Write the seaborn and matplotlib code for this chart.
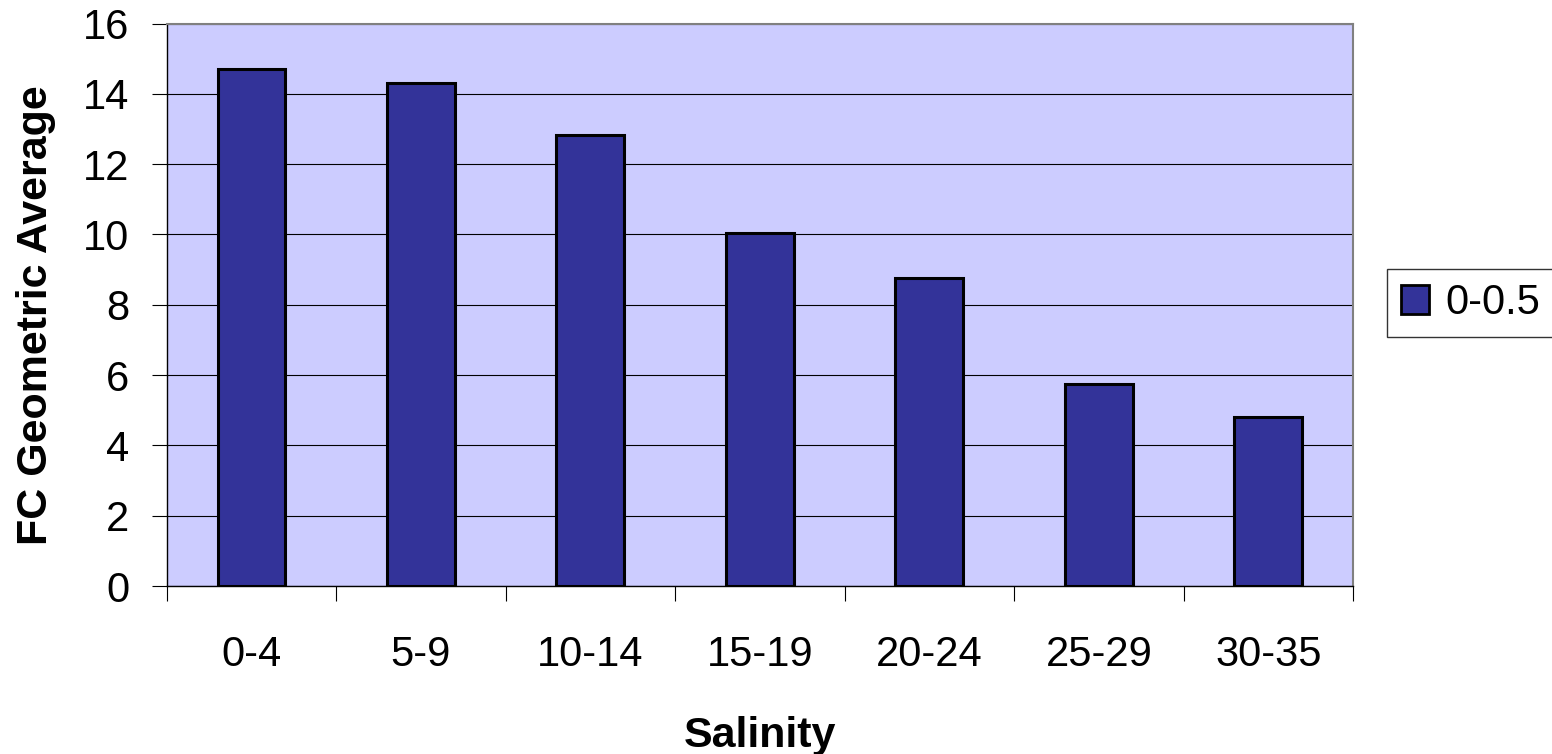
import matplotlib
matplotlib.use("Agg")
import matplotlib.pyplot as plt
import seaborn as sns
import numpy as np
from matplotlib.ticker import FixedLocator

# Data
salinity = ["0-4", "5-9", "10-14", "15-19", "20-24", "25-29", "30-35"]
fc_geo_avg = [14.72, 14.32, 12.82, 10.03, 8.75, 5.74, 4.81]
series_name = "0-0.5"
y_ticks = [0, 2, 4, 6, 8, 10, 12, 14, 16]

sns.set_style("white")
plt.rcParams["font.family"] = ["Liberation Sans", "DejaVu Sans"]
plt.rcParams["text.color"] = "black"
plt.rcParams["axes.labelcolor"] = "black"
plt.rcParams["xtick.color"] = "black"
plt.rcParams["ytick.color"] = "black"

fig = plt.figure(figsize=(15.52, 7.54), dpi=100)
ax = fig.add_axes([0.1074, 0.2228, 0.7644, 0.746])
ax.set_facecolor("#CCCCFF")

sns.barplot(x=salinity, y=fc_geo_avg, color="#333399", width=0.4,
            edgecolor="black", linewidth=2.2, saturation=1,
            label=series_name, ax=ax, zorder=3)

ax.set_ylim(0, 16)
ax.set_xlim(-0.5, len(salinity) - 0.5)
ax.set_yticks(y_ticks)
ax.set_yticklabels([str(t) for t in y_ticks])
ax.yaxis.grid(True, color="black", linewidth=0.8, zorder=1)
ax.set_axisbelow(True)

# Category boundary ticks on x, labels centred under bars
ax.xaxis.set_minor_locator(FixedLocator(np.arange(-0.5, len(salinity), 1.0)))
ax.tick_params(axis="x", which="minor", length=11, width=0.8, color="black",
               direction="out", bottom=True)
ax.tick_params(axis="x", which="major", length=0, pad=35, labelsize=30,
               labelcolor="black")
ax.tick_params(axis="y", which="major", length=11, width=0.8, color="black",
               direction="out", left=True, pad=16, labelsize=30,
               labelcolor="black")

for side in ["top", "right"]:
    ax.spines[side].set_color("#808080")
    ax.spines[side].set_linewidth(1.5)
for side in ["left", "bottom"]:
    ax.spines[side].set_color("black")
    ax.spines[side].set_linewidth(1.0)

ax.set_xlabel("Salinity", fontsize=31, fontweight="bold", labelpad=30,
              color="black")
ax.set_ylabel("FC Geometric Average", fontsize=31, fontweight="bold",
              labelpad=19, color="black")
ax.yaxis.label.set_y(0.482)

leg = ax.legend(loc="center left", bbox_to_anchor=(0.8937, 0.598),
                bbox_transform=fig.transFigure, borderaxespad=0,
                fontsize=30, frameon=True, fancybox=False, shadow=False,
                handlelength=0.67, handleheight=0.67, handletextpad=0.4,
                borderpad=0.33)
leg.get_frame().set_edgecolor("black")
leg.get_frame().set_linewidth(1.0)
for t in leg.get_texts():
    t.set_color("black")
for h in leg.legend_handles:
    h.set_edgecolor("black")
    h.set_linewidth(2.0)

fig.savefig("out.png", dpi=100, facecolor="white")
